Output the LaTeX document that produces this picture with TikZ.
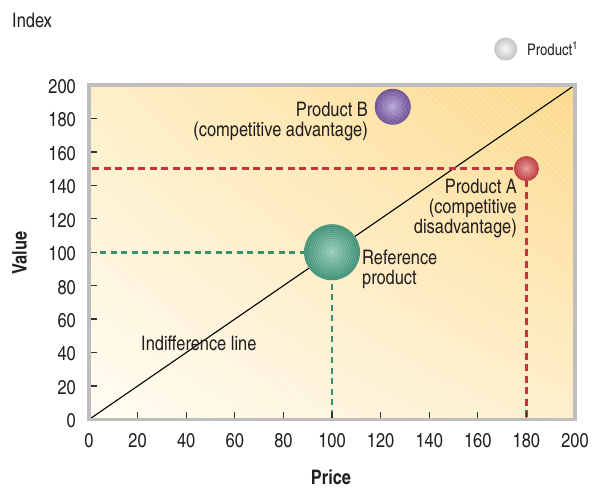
\documentclass[tikz,border=0pt]{standalone}
\usepackage{fontspec}
\setmainfont{texgyreheroscn}[Extension=.otf, UprightFont=*-regular, BoldFont=*-bold, ItalicFont=*-italic, BoldItalicFont=*-bolditalic]
\usetikzlibrary{shadings}
\definecolor{bgTL}{HTML}{FEEFC6}
\definecolor{bgTR}{HTML}{FDD98B}
\definecolor{bgBL}{HTML}{FFFCF3}
\definecolor{bgBR}{HTML}{FEEFCA}
\definecolor{frameC}{HTML}{BEBEBE}
\definecolor{tickC}{HTML}{333333}
\definecolor{txtC}{HTML}{231F20}
\definecolor{grnOut}{HTML}{3A8E72}
\definecolor{grnIn}{HTML}{93C9B6}
\definecolor{grnDash}{HTML}{3A8F6F}
\definecolor{purOut}{HTML}{664892}
\definecolor{purIn}{HTML}{B4A0D3}
\definecolor{redOut}{HTML}{BD3338}
\definecolor{redIn}{HTML}{E39593}
\definecolor{redDash}{HTML}{C4343A}
\definecolor{legOut}{HTML}{C2C2C2}
\definecolor{legIn}{HTML}{F7F7F7}
\newcommand{\ringball}[4]{%
  \foreach \k in {0,...,13}{%
    \pgfmathsetmacro{\rr}{#2*(1-\k/14)}%
    \pgfmathtruncatemacro{\pp}{100*\k/13}%
    \fill[#4!\pp!#3] (#1) circle[radius=\rr pt];
    \draw[white, opacity=0.22, line width=0.6pt] (#1) circle[radius=\rr pt-0.9pt];
  }}
\tikzset{
  lbl/.style={font=\fontsize{20}{21}\selectfont, text=txtC, inner sep=0pt},
  axlbl/.style={font=\fontsize{20}{21}\selectfont\bfseries, text=txtC, inner sep=0pt},
  leglbl/.style={font=\fontsize{16}{18}\selectfont, text=txtC, inner sep=0pt},
  bubble/.style={circle, inner sep=0pt, draw=none},
  gdash/.style={draw=grnDash, line width=2.8pt, dash pattern=on 6pt off 4.5pt},
  rdash/.style={draw=redDash, line width=2.8pt, dash pattern=on 7pt off 4.5pt},
  tickmark/.style={draw=tickC, line width=1.3pt},
  indiff/.style={draw=black, line width=1.1pt},
  plotframe/.style={draw=frameC, line width=3.5pt}
}
\begin{document}
\begin{tikzpicture}[x=1pt, y=1pt]
\useasboundingbox (0,0) rectangle (597,489);
% background
\shade[upper left=bgTL, upper right=bgTR, lower left=bgBL, lower right=bgBR] (89,69.5) rectangle (575,404);
\begin{scope}
  \clip (89,69.5) rectangle (575,404);
  \foreach \s in {-340,-334,...,580}
    \draw[white, opacity=0.28, line width=0.4pt] (89+\s,404) -- ++(335,-335);
\end{scope}
\begin{scope}[shift={(89pt,69.5pt)}, x=2.43pt, y=1.6725pt]
  \coordinate (o) at (0,0);
  \coordinate (tr) at (200,200);
  \draw[indiff] (o) -- (tr);
  \node[bubble, minimum size=56pt] (ref) at (100,100) {};
  \node[bubble, minimum size=36pt] (pB) at (125,187) {};
  \node[bubble, minimum size=25pt] (pA) at (180,150) {};
  % dashed guides
  \draw[gdash] ([xshift=11pt]ref.center -| o) -- (ref.center);
  \draw[gdash] (ref.center) -- (ref.center |- o);
  \draw[rdash] ([xshift=3pt]pA.center -| o) -- (pA.center);
  \draw[rdash] (pA.center) -- (pA.center |- o);
  % bubbles
  \ringball{ref.center}{28}{grnOut}{grnIn}
  \ringball{pB.center}{18}{purOut}{purIn}
  \ringball{pA.center}{12.5}{redOut}{redIn}
  % ticks
  \foreach \v in {20,40,...,180}{
    \draw[tickmark] (\v,0) -- ++(0,7.5pt);
    \draw[tickmark] (0,\v) -- ++(7.5pt,0);
  }
  \draw[plotframe] (o) rectangle (tr);
  % tick labels
  \foreach \v in {0,20,...,200}{
    \node[lbl, anchor=base] (xl\v) at ([yshift=-28.5pt]\v,0) {\v};
    \node[lbl, anchor=east] (yl\v) at ([xshift=-13pt, yshift=-1.5pt]0,\v) {\v};
  }
\end{scope}
% data labels
\node[lbl, anchor=base east] (labB1) at (368,372) {Product B};
\node[lbl, anchor=base east] (labB2) at (368,352) {(competitive advantage)};
\node[lbl, anchor=base east] (labA1) at (517,295) {Product A};
\node[lbl, anchor=base east] (labA2) at (517,275) {(competitive};
\node[lbl, anchor=base east] (labA3) at (517,255) {disadvantage)};
\node[lbl, anchor=base west] (labR1) at (362,224) {Reference};
\node[lbl, anchor=base west] (labR2) at (362,204) {product};
\node[lbl, anchor=base west] (labI) at (141,138) {Indifference line};
% axis titles
\node[axlbl, rotate=90] (vlab) at (19.5,236) {Value};
\node[axlbl, anchor=base] (plab) at (331,4) {Price};
\node[lbl, anchor=base west] (idx) at (12,461) {Index};
% legend
\node[bubble, minimum size=23pt] (leg) at (505.7,440) {};
\ringball{leg.center}{11.5}{legOut}{legIn}
\node[leglbl, anchor=base west] (legtxt) at (527,433) {Product\textsuperscript{1}};
\end{tikzpicture}
\end{document}
